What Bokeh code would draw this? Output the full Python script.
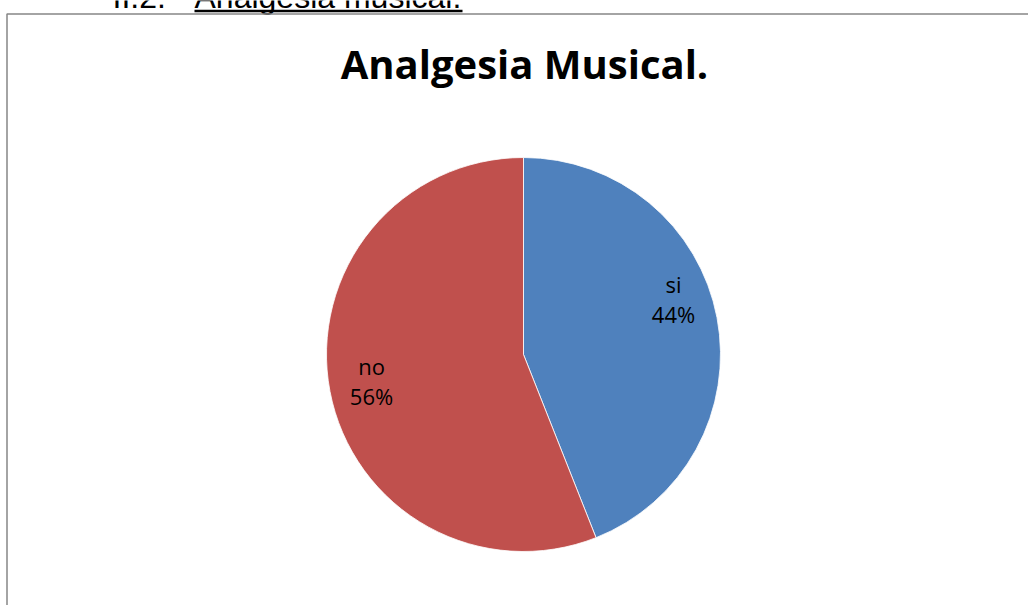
import math
from bokeh.plotting import figure
from bokeh.models import ColumnDataSource, Range1d
from bokeh.core.properties import value
from bokeh.embed import file_html
from bokeh.resources import INLINE

# data
categories = ["si", "no"]
percents = [44, 56]
colors = ["#4F81BD", "#C0504D"]
title_text = "Analgesia Musical."
heading_num = "II.2."
heading_text = "Analgesia musical."

W, H = 1029, 605
p = figure(width=W, height=H, output_backend="svg", toolbar_location=None,
           x_range=Range1d(0, W), y_range=Range1d(0, H),
           min_border=0, min_border_left=0, min_border_right=0,
           min_border_top=0, min_border_bottom=0)
p.axis.visible = False
p.grid.visible = False
p.outline_line_color = None
p.background_fill_color = "white"
p.border_fill_color = "white"

def Y(sy):
    return H - sy

# heading (clipped at top of page, as in the reference)
p.text(x=[112], y=[Y(-4)], text=[heading_num], text_font=value("Liberation Sans"),
       text_font_size="32px", text_color="black", text_baseline="alphabetic",
       text_align="left")
p.text(x=[194], y=[Y(-4)], text=[heading_text], text_font=value("Liberation Sans"),
       text_font_size="32px", text_color="black", text_baseline="alphabetic",
       text_align="left")
p.segment(x0=[194], y0=[Y(10.5)], x1=[462], y1=[Y(10.5)], line_color="black", line_width=2.5)

# chart border
p.line(x=[6.5, 6.5, 1027.5], y=[Y(605), Y(13.5), Y(13.5)], line_color="#868686", line_width=1.5)

# title
p.text(x=[524], y=[Y(63)], text=[title_text], text_font=value("Open Sans"),
       text_font_style="bold", text_font_size="40px", text_color="black",
       text_align="center", text_baseline="middle")

# pie
cx, cy, r = 523, Y(354), 197
total = sum(percents)
starts, ends = [], []
a = math.pi / 2
for v in percents:
    span = v / total * 2 * math.pi
    starts.append(a)
    ends.append(a - span)
    a -= span
src = ColumnDataSource(dict(cat=categories, start=starts, end=ends, color=colors))
p.wedge(x=cx, y=cy, radius=r, radius_units="screen", start_angle="start", end_angle="end",
        direction="clock", fill_color="color", line_color="white", line_width=0.8, source=src)

# labels
label_pos = [(673, 283, 313), (371, 365, 395)]
for cat, pct, (lx, y1, y2) in zip(categories, percents, label_pos):
    p.text(x=[lx], y=[Y(y1)], text=[cat], text_font=value("Open Sans"), text_font_size="22px",
           text_color="black", text_align="center", text_baseline="middle")
    p.text(x=[lx], y=[Y(y2)], text=[f"{pct}%"], text_font=value("Open Sans"), text_font_size="22px",
           text_color="black", text_align="center", text_baseline="middle")

open("out.html", "w").write(file_html(p, INLINE))
